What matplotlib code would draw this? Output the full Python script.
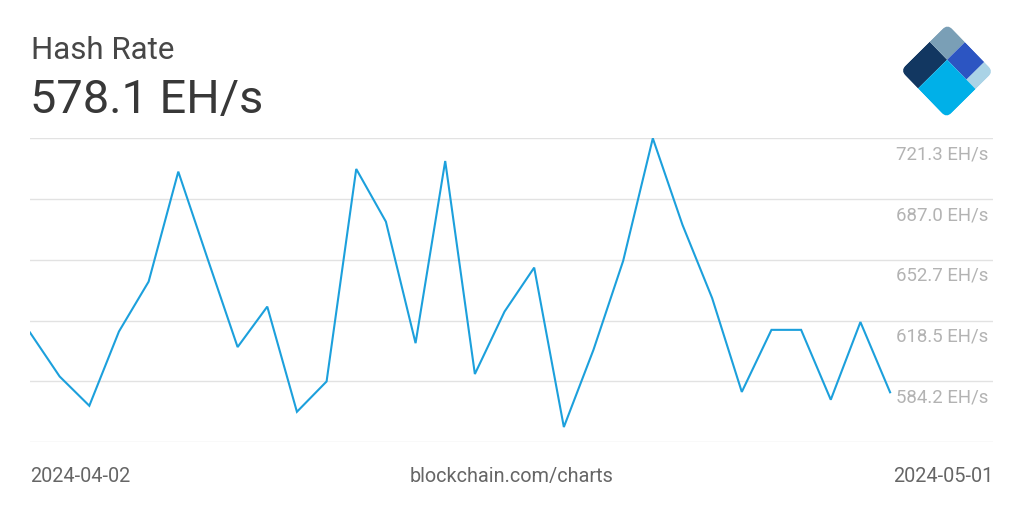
import matplotlib
matplotlib.use("Agg")
import matplotlib.pyplot as plt
from matplotlib.patches import Polygon, FancyBboxPatch
from matplotlib.transforms import Affine2D, blended_transform_factory, ScaledTranslation

plt.rcParams["font.family"] = ["Roboto", "DejaVu Sans"]

# daily hash rate, 2024-04-02 .. 2024-05-01 (EH/s)
hash_rate = [611.8, 587.0, 570.5, 612.4, 640.5, 702.5, 652.8, 603.6, 626.4, 567.1,
             584.2, 704.0, 674.3, 605.8, 708.5, 588.4, 623.6, 648.4, 558.5, 602.1,
             652.2, 721.3, 672.5, 631.2, 578.3, 613.3, 613.3, 573.9, 617.7, 578.1]
grid_values = [549.9, 584.2, 618.5, 652.7, 687.0, 721.3]
grid_labels = ["", "584.2 EH/s", "618.5 EH/s", "652.7 EH/s", "687.0 EH/s", "721.3 EH/s"]
start_label = "2024-04-02"
end_label = "2024-05-01"
current_value = "578.1 EH/s"

W, H = 1024, 512
fig = plt.figure(figsize=(W / 100, H / 100), dpi=100)
fig.patch.set_facecolor("white")

# plot area
left, right, top, bottom = 30, 993, 138.3, 442.3
ax = fig.add_axes([left / W, 1 - bottom / H, (right - left) / W, (bottom - top) / H])
days = list(range(len(hash_rate)))
ax.plot(days, hash_rate, color="#1ca0dc", lw=1.5, solid_joinstyle="miter", zorder=3)
ax.set_xlim(0, 32.47)
ax.set_ylim(grid_values[0], grid_values[-1])
ax.set_yticks(grid_values)
ax.set_xticks([])
ax.tick_params(left=False, labelleft=False)
ax.grid(axis="y", color="#e2e2e2", lw=1)
for s in ax.spines.values():
    s.set_visible(False)
ax.set_facecolor("none")

trans = blended_transform_factory(ax.transAxes, ax.transData)
off = ScaledTranslation(-5 / 100, -16 / 100, fig.dpi_scale_trans)
for v, lab in zip(grid_values, grid_labels):
    ax.text(1, v, lab, transform=trans + off, ha="right", va="center",
            fontsize=13.4, color="#b3b3b3", clip_on=False)

# header
fig.text(31 / W, 1 - 59 / H, "Hash Rate", fontsize=22.5, color="#474747", va="baseline")
fig.text(30 / W, 1 - 113 / H, current_value, fontsize=33.8, color="#383838", va="baseline")

# footer
fig.text(30 / W, 1 - 482 / H, start_label, fontsize=14.3, color="#666666", va="baseline")
fig.text(512 / W, 1 - 482 / H, "blockchain.com/charts", fontsize=14.3, color="#666666",
         va="baseline", ha="center")
fig.text(993 / W, 1 - 482 / H, end_label, fontsize=14.3, color="#666666", va="baseline",
         ha="right")

# logo
lax = fig.add_axes([0, 0, 1, 1])
lax.set_xlim(0, W)
lax.set_ylim(H, 0)
lax.axis("off")
lax.set_facecolor("none")
to_img = Affine2D.from_values(47, -46.5, 46, 47.5, 900.5, 70.5) + lax.transData
ja, jb, lb = 0.62, 0.38, 0.80
pieces = [
    ([(0, 0), (ja, 0), (ja, jb), (0, jb)], "#123761"),
    ([(ja, 0), (1, 0), (1, jb), (ja, jb)], "#7a9fb6"),
    ([(ja, jb), (1, jb), (1, lb), (ja, lb)], "#2c55c2"),
    ([(ja, lb), (1, lb), (1, 1), (ja, 1)], "#aad3e6"),
    ([(0, jb), (ja, jb), (ja, 1), (0, 1)], "#00b0e8"),
]
clip = FancyBboxPatch((0, 0), 1, 1, boxstyle="round,pad=0,rounding_size=0.11",
                      transform=to_img, facecolor="none", edgecolor="none")
lax.add_patch(clip)
for pts, col in pieces:
    p = Polygon(pts, closed=True, facecolor=col, edgecolor="none", transform=to_img)
    lax.add_patch(p)
    p.set_clip_path(clip)

fig.savefig("out.png", dpi=100, facecolor="white")
